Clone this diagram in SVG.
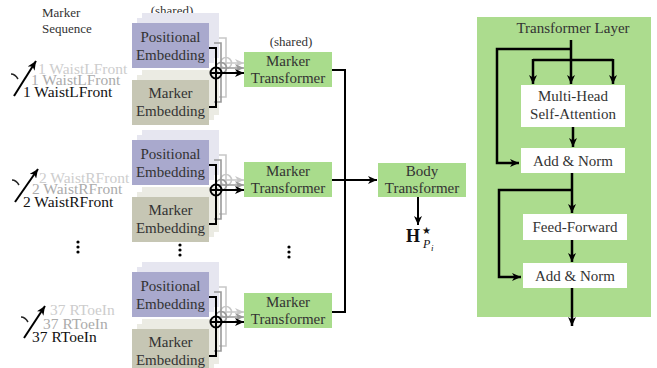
<svg xmlns="http://www.w3.org/2000/svg" width="657" height="368" viewBox="0 0 657 368" font-family="'Liberation Serif', 'DejaVu Serif', serif">
<style>
text{font-family:'Liberation Serif','DejaVu Serif',serif;fill:#333}
.bt{font-size:15px;text-anchor:middle}
.sm{font-size:13px}
.lab{font-size:15.5px}
.pe{fill:#a9a9cd}
.me{fill:#c6c6b4}
.peg{fill:#e6e6f0}
.meg{fill:#ebebe3}
.gr{fill:#a9dc8c}
.ln{fill:none;stroke:#000;stroke-width:2}
.g1{fill:none;stroke:#9a9a9a;stroke-width:1.6}
.g2{fill:none;stroke:#c8c8c8;stroke-width:1.6}
.pl{fill:none;stroke:#000;stroke-width:2.5}
</style>
<defs>
<marker id="ah" markerUnits="userSpaceOnUse" markerWidth="10" markerHeight="8" refX="9" refY="4" orient="auto"><path d="M0,0 L9,4 L0,8 L2.5,4 z" fill="#000"/></marker>
<marker id="ah1" markerUnits="userSpaceOnUse" markerWidth="10" markerHeight="8" refX="9" refY="4" orient="auto"><path d="M0,0 L9,4 L0,8 L2.5,4 z" fill="#9a9a9a"/></marker>
<marker id="ah2" markerUnits="userSpaceOnUse" markerWidth="10" markerHeight="8" refX="9" refY="4" orient="auto"><path d="M0,0 L9,4 L0,8 L2.5,4 z" fill="#c8c8c8"/></marker>
<g id="stack">
<rect class="peg" x="142" y="13" width="77" height="45"/>
<rect class="peg" x="137" y="18" width="77" height="45"/>
<rect class="meg" x="142" y="70" width="77" height="45"/>
<rect class="meg" x="137" y="75" width="77" height="45"/>
<rect class="pe" x="132" y="23" width="77" height="45"/>
<text class="bt" x="170.5" y="42" font-family="'Liberation Serif', serif">Positional</text>
<text class="bt" x="170.5" y="60" font-family="'Liberation Serif', serif">Embedding</text>
<rect class="me" x="132" y="80" width="77" height="45"/>
<text class="bt" x="170.5" y="98" font-family="'Liberation Serif', serif">Marker</text>
<text class="bt" x="170.5" y="116" font-family="'Liberation Serif', serif">Embedding</text>
<path class="g2" d="M219,38 H226 V97 H219 M231,63 H244" marker-end="url(#ah2)"/>
<circle class="g2" cx="226" cy="63" r="5.5"/>
<path class="g2" d="M220.5,63 H231.5"/>
<path class="g1" d="M214,43 H221 V102 H214 M226,68 H244" marker-end="url(#ah1)"/>
<circle class="g1" cx="221" cy="68" r="5.5"/>
<path class="g1" d="M215.5,68 H226.5"/>
<path class="ln" d="M209,48 H216 V107 H209"/>
<circle class="ln" cx="216" cy="73" r="5.5" stroke-width="1.8"/>
<path class="ln" d="M210.5,73 H221.5" stroke-width="1.8"/>
<path class="ln" d="M221.5,73 H244" marker-end="url(#ah)"/>
</g>
</defs>

<text class="sm" x="42" y="17">Marker</text>
<text class="sm" x="42" y="33">Sequence</text>
<text class="sm" x="172" y="15" text-anchor="middle">(shared)</text>
<text class="sm" x="291" y="46" text-anchor="middle">(shared)</text>

<g id="seq1">
<text class="lab" x="38" y="74" style="fill:#cdcdcd">1 WaistLFront</text>
<text class="lab" x="31" y="85" style="fill:#ababab">1 WaistLFront</text>
<text class="lab" x="23" y="97" style="fill:#111">1 WaistLFront</text>
<path class="ln" d="M14,96 L36,61" marker-end="url(#ah)"/>
<path d="M11,74 Q15,74 18,79" fill="none" stroke="#222" stroke-width="1.5"/>
</g>
<g id="seq2">
<text class="lab" x="39" y="183" style="fill:#cdcdcd">2 WaistRFront</text>
<text class="lab" x="32" y="194" style="fill:#ababab">2 WaistRFront</text>
<text class="lab" x="23" y="207" style="fill:#111">2 WaistRFront</text>
<path class="ln" d="M15,202 L38,169" marker-end="url(#ah)"/>
<path d="M12,180 Q16,180 19,185" fill="none" stroke="#222" stroke-width="1.5"/>
</g>
<g id="seq3">
<text class="lab" x="50" y="315" style="fill:#cdcdcd">37 RToeIn</text>
<text class="lab" x="43" y="329" style="fill:#ababab">37 RToeIn</text>
<text class="lab" x="32" y="342" style="fill:#111">37 RToeIn</text>
<path class="ln" d="M24,338 L45,306" marker-end="url(#ah)"/>
<path d="M21,317 Q25,317 28,322" fill="none" stroke="#222" stroke-width="1.5"/>
</g>

<g id="emb1"><use href="#stack"/></g>
<g id="emb2"><use href="#stack" transform="translate(0,117)"/></g>
<g id="emb3"><use href="#stack" transform="translate(0,249)"/></g>

<g id="dots" fill="#000">
<circle cx="78" cy="242" r="1.6"/><circle cx="78" cy="247" r="1.6"/><circle cx="78" cy="252" r="1.6"/>
<circle cx="180" cy="245" r="1.6"/><circle cx="180" cy="250" r="1.6"/><circle cx="180" cy="255" r="1.6"/>
<circle cx="289" cy="247" r="1.6"/><circle cx="289" cy="252" r="1.6"/><circle cx="289" cy="257" r="1.6"/>
</g>

<g id="connectors">
<path class="ln" d="M332,70 H345 V312 H332"/>
<path class="ln" d="M332,180 H377" marker-end="url(#ah)"/>
<path class="ln" d="M418,197 V225" marker-end="url(#ah)"/>
</g>

<g id="mt1"><rect class="gr" x="244" y="52" width="88" height="35"/>
<text class="bt" x="288" y="66">Marker</text><text class="bt" x="288" y="83">Transformer</text></g>
<g id="mt2"><rect class="gr" x="244" y="162" width="88" height="35"/>
<text class="bt" x="288" y="176">Marker</text><text class="bt" x="288" y="193">Transformer</text></g>
<g id="mt3"><rect class="gr" x="244" y="293" width="88" height="35"/>
<text class="bt" x="288" y="307">Marker</text><text class="bt" x="288" y="324">Transformer</text></g>

<g id="body"><rect class="gr" x="378" y="163" width="88" height="34"/>
<text class="bt" x="422" y="176">Body</text><text class="bt" x="422" y="193">Transformer</text></g>

<g id="hout">
<text x="406" y="242" style="font-size:18px;font-weight:bold;fill:#111">H</text>
<text x="422" y="234" style="font-size:10px;fill:#111">★</text>
<text x="423" y="248" style="font-size:12px;font-style:italic;fill:#111">P</text>
<text x="431" y="251" style="font-size:9px;font-style:italic;fill:#111">i</text>
</g>

<g id="layer">
<rect x="477" y="17" width="174" height="300" fill="#acdc8e"/>
<text class="bt" x="573" y="33">Transformer Layer</text>
<g id="mhsa"><rect x="521" y="85" width="104" height="42" fill="#fff"/>
<text class="bt" x="573" y="101">Multi-Head</text><text class="bt" x="573" y="119">Self-Attention</text></g>
<g id="an1"><rect x="521" y="148" width="104" height="25" fill="#fff"/>
<text class="bt" x="573" y="166">Add &amp; Norm</text></g>
<g id="ff"><rect x="523" y="214" width="104" height="26" fill="#fff"/>
<text class="bt" x="575" y="232">Feed-Forward</text></g>
<g id="an2"><rect x="523" y="263" width="104" height="25" fill="#fff"/>
<text class="bt" x="575" y="281">Add &amp; Norm</text></g>
<g id="layer-connectors">
<path class="pl" d="M571,40 V84" marker-end="url(#ah)"/>
<path class="pl" d="M571,49 H497 V163 H519" marker-end="url(#ah)"/>
<path class="pl" d="M533,60 H613"/>
<path class="pl" d="M533,59 V84" marker-end="url(#ah)"/>
<path class="pl" d="M613,59 V84" marker-end="url(#ah)"/>
<path class="pl" d="M573,127 V147" marker-end="url(#ah)"/>
<path class="pl" d="M572,173 V213" marker-end="url(#ah)"/>
<path class="pl" d="M572,190 H499 V277 H521" marker-end="url(#ah)"/>
<path class="pl" d="M572,240 V262" marker-end="url(#ah)"/>
<path class="pl" d="M572,288 V326" marker-end="url(#ah)"/>
</g>
</g>
</svg>
